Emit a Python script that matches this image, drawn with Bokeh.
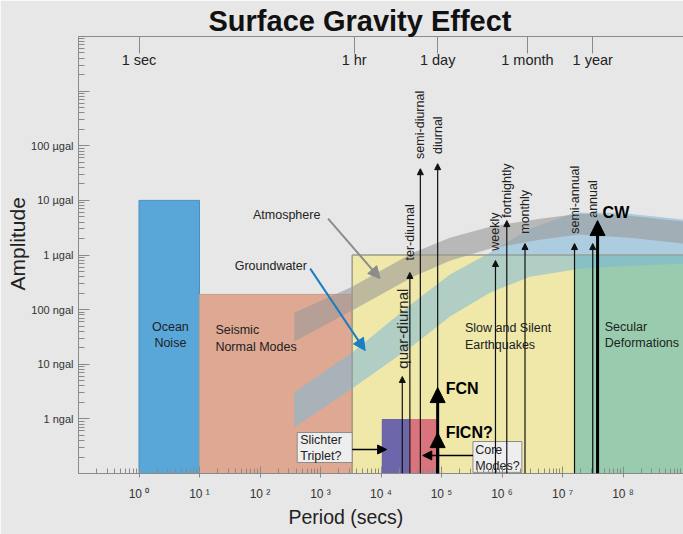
import math
from bokeh.plotting import figure
from bokeh.models import (Range1d, LogAxis, FixedTicker, Title, Arrow, NormalHead,
                          ColumnDataSource)
from bokeh.core.properties import value
from bokeh.embed import file_html
from bokeh.resources import INLINE

FONT = "Liberation Sans"
BG = "#e7e7e7"

# ---------------- data ----------------
# regions (period in s, amplitude in ngal)
box_names = ["Ocean Noise", "Seismic Normal Modes", "Slow and Silent Earthquakes",
             "Secular Deformations", "Slichter", "Core"]
box_left = [1.0, 10.0, 3340.0, 1.6e7, 1.03e4, 2.94e4]
box_right = [10.0, 3340.0, 1e9, 1e9, 2.94e4, 8.3e4]
box_top = [1e4, 190.0, 1000.0, 1000.0, 1.0, 1.0]
box_bottom = 0.1
box_colors = ["#59a6d8", "#dfa893", "#efe8a9", "#99cbae", "#6e66aa", "#d9737c"]
box_lines = ["#4f8fbd", "#c99c8a", "#9c9a88", "#99cbae", "#6e66aa", "#d9737c"]

# bands: log10(period s) and log10(amplitude ngal)
ground_lx = [2.566, 3.523, 4.530, 5.140, 5.800, 6.460, 7.203, 7.946, 9.0]
ground_up = [0.482, 1.214, 2.128, 2.641, 3.043, 3.482, 3.775, 3.775, 3.647]
ground_lx_lo = [2.566, 3.523, 4.530, 5.140, 5.800, 6.460, 7.285, 8.110, 9.0]
ground_lo = [-0.158, 0.555, 1.342, 1.872, 2.311, 2.604, 2.750, 2.805, 2.842]

atmo_lx = [2.566, 3.523, 4.530, 5.140, 5.800, 6.625, 7.285, 8.110, 9.0]
atmo_up = [1.945, 2.421, 3.043, 3.318, 3.519, 3.665, 3.757, 3.720, 3.610]
atmo_lo = [1.415, 1.982, 2.604, 2.897, 3.116, 3.281, 3.373, 3.318, 3.208]

# tidal lines
tide_names = ["quar-diurnal", "ter-diurnal", "semi-diurnal", "diurnal", "weekly",
              "fortnightly", "monthly", "semi-annual", "annual"]
tide_period = [2.25e4, 3.0e4, 4.47e4, 8.64e4, 7.8e5, 1.2e6, 2.4e6, 1.58e7, 3.16e7]
tide_amp = [5.96, 479.0, 3.8e4, 4.7e4, 794.0, 4270.0, 1620.0, 1620.0, 1620.0]
tide_label_y = [8.3, 794.0, 5.75e4, 7.1e4, 1200.0, 4800.0, 2450.0, 2450.0, 4800.0]
tide_font = ["15px", "12.5px", "12.5px", "12.5px", "12.5px", "12.5px", "12.5px", "12.5px", "12.5px"]

# core / rotation arrows
big_names = ["CW", "FCN", "FICN?"]
big_period = [3.8e7, 8.64e4, 8.64e4]
big_amp = [4270.0, 3.74, 0.56]

# axes
y_ticks = [0.1, 1, 10, 100, 1000, 1e4, 1e5, 1e6, 1e7]
y_labels = [" ", "1 ngal", "10 ngal", "100 ngal", "1 \u00b5gal", "10 \u00b5gal", "100 \u00b5gal", " ", " "]
x_ticks = [1, 10, 100, 1000, 1e4, 1e5, 1e6, 1e7, 1e8]
x_labels = ["10 \u2070", "10 \u00b9", "10 \u00b2", "10 \u00b3", "10 \u2074", "10 \u2075", "10 \u2076", "10 \u2077", "10 \u2078"]
top_ticks = [1, 3600, 86400, 2.63e6, 3.156e7]
top_labels = ["1 sec", "1 hr", "1 day", "1 month", "1 year"]

# ---------------- figure ----------------
p = figure(width=683, height=534, x_axis_type="log", y_axis_type="log",
           x_range=Range1d(0.1, 1e9), y_range=Range1d(0.1, 1e7),
           output_backend="svg", toolbar_location=None,
           background_fill_color=BG, border_fill_color=BG, outline_line_color=None,
           min_border_left=78, min_border_right=0, min_border_top=36, min_border_bottom=61)
p.xgrid.visible = False
p.ygrid.visible = False

# title
p.title.text = "Surface Gravity Effect"
p.title.align = "left"
p.title.offset = 130
p.title.text_font = FONT
p.title.text_font_size = "29px"
p.title.text_font_style = "bold"
p.title.text_color = "#111111"
p.title.standoff = 0

# left axis
ya = p.yaxis[0]
ya.ticker = FixedTicker(ticks=y_ticks,
                        minor_ticks=[m * 10.0 ** k for k in range(-1, 7) for m in range(2, 10)])
ya.major_label_overrides = {t: l for t, l in zip(y_ticks, y_labels)}
ya.major_tick_in = 11
ya.major_tick_out = 0
ya.minor_tick_in = 6
ya.minor_tick_out = 0
ya.axis_line_color = "#8a8a8a"
ya.major_tick_line_color = "#8a8a8a"
ya.minor_tick_line_color = "#8a8a8a"
ya.major_label_text_font = FONT
ya.major_label_text_font_size = "11px"
ya.major_label_text_color = "#333333"
ya.major_label_standoff = 5

# bottom axis
xa = p.xaxis[0]
xa.ticker = FixedTicker(ticks=x_ticks,
                        minor_ticks=[m * 10.0 ** k for k in range(-1, 9) for m in range(2, 10)])
xa.major_label_overrides = {t: l for t, l in zip(x_ticks, x_labels)}
xa.major_tick_in = 7
xa.major_tick_out = 4
xa.minor_tick_in = 5
xa.minor_tick_out = 0
xa.axis_line_color = "#8a8a8a"
xa.major_tick_line_color = "#8a8a8a"
xa.minor_tick_line_color = "#8a8a8a"
xa.major_label_text_font = FONT
xa.major_label_text_font_size = "12px"
xa.major_label_text_color = "#333333"
xa.major_label_standoff = 9

# top axis (ticks inside, labels drawn as text below)
ta = LogAxis(ticker=FixedTicker(ticks=top_ticks, minor_ticks=[]),
             major_tick_in=17, major_tick_out=0, minor_tick_in=0, minor_tick_out=0,
             axis_line_color="#8a8a8a", major_tick_line_color="#8a8a8a",
             major_label_text_font_size="2px", major_label_text_alpha=0.0,
             major_label_standoff=0)
p.add_layout(ta, "above")
p.text(x=top_ticks, y=[3.7e6] * len(top_ticks), text=top_labels,
       text_font=value(FONT), text_font_size="14.5px", text_color="#222222",
       text_align="center", text_baseline="middle")

# axis titles
p.add_layout(Title(text="Period (secs)", align="left", offset=210, text_font=FONT,
                   text_font_size="19.5px", text_font_style="normal", text_color="#222222",
                   standoff=0), "below")
p.add_layout(Title(text="Amplitude", align="left", offset=183, text_font=FONT,
                   text_font_size="21px", text_font_style="normal", text_color="#222222",
                   standoff=0), "left")

# boxes
p.quad(left=box_left[:4], right=box_right[:4], top=box_top[:4], bottom=box_bottom,
       fill_color=box_colors[:4], line_color=box_lines[:4], line_width=1)

# bands
gx = [10 ** v for v in ground_lx] + [10 ** v for v in ground_lx_lo[::-1]]
gy = [10 ** v for v in ground_up] + [10 ** v for v in ground_lo[::-1]]
p.patch(gx, gy, fill_color="#7cb8d8", fill_alpha=0.55, line_color=None)
ax_ = [10 ** v for v in atmo_lx] + [10 ** v for v in atmo_lx[::-1]]
ay_ = [10 ** v for v in atmo_up] + [10 ** v for v in atmo_lo[::-1]]
p.patch(ax_, ay_, fill_color="#9a9a9a", fill_alpha=0.6, line_color=None)

# yellow box outline over bands
p.quad(left=box_left[2], right=box_right[2], top=box_top[2], bottom=box_bottom,
       fill_color=None, line_color="#9c9a88", line_width=1)

# core mode boxes
p.quad(left=box_left[4:], right=box_right[4:], top=box_top[4:], bottom=box_bottom,
       fill_color=box_colors[4:], line_color=None)

# tidal arrows
tsrc = ColumnDataSource(dict(x0=tide_period, y0=[0.1] * len(tide_period),
                             x1=tide_period, y1=tide_amp))
p.add_layout(Arrow(source=tsrc, x_start="x0", y_start="y0", x_end="x1", y_end="y1",
                   line_color="#111111", line_width=1.2,
                   end=NormalHead(size=6, fill_color="#111111", line_color="#111111", line_width=1)))
p.text(x=tide_period, y=tide_label_y, text=tide_names, angle=math.pi / 2,
       text_font=value(FONT), text_font_size=tide_font, text_color="#222222",
       text_align="left", text_baseline="middle")

# big arrows
for xp, yp in zip(big_period, big_amp):
    p.add_layout(Arrow(x_start=xp, y_start=0.1, x_end=xp, y_end=yp,
                       line_color="#000000", line_width=3,
                       end=NormalHead(size=15, fill_color="#000000", line_color="#000000", line_width=1)))
p.text(x=[4.6e7, 1.17e5, 1.17e5], y=[5960.0, 3.59, 0.56], text=big_names,
       text_font=value(FONT), text_font_size="16px", text_font_style="bold",
       text_color="#000000", text_align="left", text_baseline="middle")

# Atmosphere / Groundwater labels and arrows
p.text(x=[276.0, 151.0], y=[5500.0, 638.0], text=["Atmosphere", "Groundwater"],
       text_font=value(FONT), text_font_size="12.5px", text_color="#222222",
       text_align="center", text_baseline="middle")
p.add_layout(Arrow(x_start=1334, y_start=4620, x_end=9660, y_end=369,
                   line_color="#8c8c8c", line_width=2,
                   end=NormalHead(size=12, fill_color="#8c8c8c", line_color="#8c8c8c")))
p.add_layout(Arrow(x_start=676, y_start=562, x_end=5470, y_end=17.8,
                   line_color="#1b7dc2", line_width=2,
                   end=NormalHead(size=12, fill_color="#1b7dc2", line_color="#1b7dc2")))

# region labels
p.text(x=[3.3], y=[34.2], text=["Ocean\nNoise"], text_font=value(FONT),
       text_font_size="12.5px", text_color="#222222", text_align="center",
       text_baseline="middle", text_line_height=1.2)
p.text(x=[18.3, 2.44e5, 4.99e7], y=[29.5, 32.0, 34.2],
       text=["Seismic\nNormal Modes", "Slow and Silent\nEarthquakes", "Secular\nDeformations"],
       text_font=value(FONT), text_font_size="12.5px", text_color="#222222",
       text_align="left", text_baseline="middle", text_line_height=1.2)

# callout boxes
p.quad(left=[412.0, 3.31e5], right=[3340.0, 2.13e6], top=[0.562, 0.385], bottom=[0.159, 0.105],
       fill_color="#eeeeee", line_color="#8c8c8c", line_width=1)
p.text(x=[462.0, 3.6e5], y=[0.293, 0.192], text=["Slichter\nTriplet?", "Core\nModes?"],
       text_font=value(FONT), text_font_size="12.5px", text_color="#222222",
       text_align="left", text_baseline="middle", text_line_height=1.1)
p.add_layout(Arrow(x_start=3340, y_start=0.275, x_end=1.24e4, y_end=0.275,
                   line_color="#000000", line_width=1.5,
                   end=NormalHead(size=9, fill_color="#000000", line_color="#000000")))
p.add_layout(Arrow(x_start=3.31e5, y_start=0.214, x_end=4.9e4, y_end=0.214,
                   line_color="#000000", line_width=1.5,
                   end=NormalHead(size=9, fill_color="#000000", line_color="#000000")))

open("out.html", "w").write(file_html(p, INLINE))
